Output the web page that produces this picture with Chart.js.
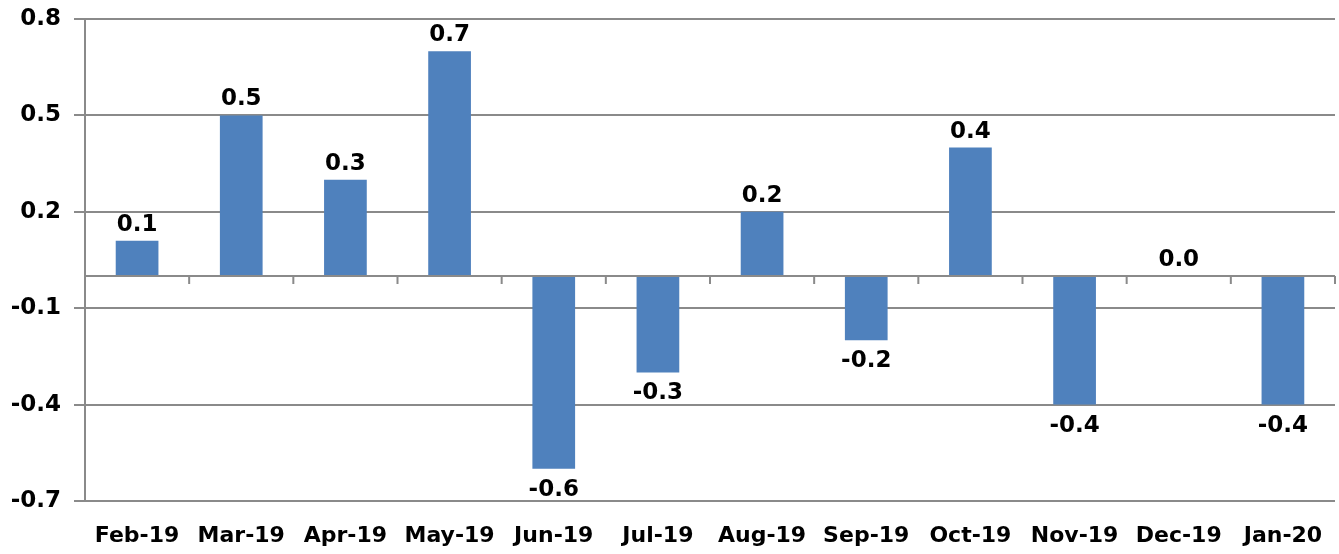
<!DOCTYPE html>
<html>
<head>
<meta charset="utf-8">
<script src="https://cdn.jsdelivr.net/npm/chart.js@4"></script>
<style>
  html, body { margin: 0; padding: 0; background: #fff; }
  #wrap { width: 1339px; height: 554px; }
</style>
</head>
<body>
<div id="wrap"><canvas id="chart"></canvas></div>
<script>
const months = ['Feb-19', 'Mar-19', 'Apr-19', 'May-19', 'Jun-19', 'Jul-19',
  'Aug-19', 'Sep-19', 'Oct-19', 'Nov-19', 'Dec-19', 'Jan-20'];
const changes = [0.11, 0.5, 0.3, 0.7, -0.6, -0.3, 0.2, -0.2, 0.4, -0.4, 0.0, -0.4];
const yTicks = [-0.7, -0.4, -0.1, 0.2, 0.5, 0.8];

const gridColor = '#8a8a8a';
const fontFamily = '"DejaVu Sans", "Liberation Sans", sans-serif';

// zero line with small tick marks between the months
const zeroLine = {
  id: 'zeroLine',
  afterDatasetsDraw(chart) {
    const { ctx, chartArea, scales } = chart;
    const y0 = scales.y.getPixelForValue(0);
    const step = (chartArea.right - chartArea.left) / months.length;
    ctx.save();
    ctx.strokeStyle = gridColor;
    ctx.lineWidth = 2;
    ctx.beginPath();
    ctx.moveTo(chartArea.left, y0);
    ctx.lineTo(chartArea.right, y0);
    for (let i = 1; i <= months.length; i++) {
      const x = chartArea.left + step * i;
      ctx.moveTo(x, y0);
      ctx.lineTo(x, y0 + 8);
    }
    ctx.stroke();
    ctx.restore();
  }
};

// value labels above / below each bar
const barLabels = {
  id: 'barLabels',
  afterDatasetsDraw(chart) {
    const { ctx } = chart;
    const meta = chart.getDatasetMeta(0);
    ctx.save();
    ctx.font = 'bold 23px ' + fontFamily;
    ctx.fillStyle = '#000';
    ctx.textAlign = 'center';
    ctx.textBaseline = 'alphabetic';
    meta.data.forEach((bar, i) => {
      const v = changes[i];
      const text = v.toFixed(1);
      if (v >= 0) {
        ctx.fillText(text, bar.x, bar.y - 10);
      } else {
        ctx.fillText(text, bar.x, bar.y + 27);
      }
    });
    ctx.restore();
  }
};

new Chart(document.getElementById('chart'), {
  type: 'bar',
  data: {
    labels: months,
    datasets: [{
      data: changes,
      backgroundColor: '#4F81BD',
      borderWidth: 0,
      barPercentage: 0.41,
      categoryPercentage: 1.0
    }]
  },
  options: {
    responsive: true,
    maintainAspectRatio: false,
    animation: false,
    layout: { padding: { top: 19, left: 0, right: 4, bottom: 0 } },
    plugins: {
      legend: { display: false },
      tooltip: { enabled: false }
    },
    scales: {
      x: {
        afterFit(scale) {
          scale.height = 53;
          scale.paddingLeft = 0;
          scale.paddingRight = 0;
        },
        grid: { display: false, drawTicks: false },
        border: { display: false },
        ticks: {
          color: '#000',
          padding: 22,
          maxRotation: 0,
          autoSkip: false,
          font: { family: fontFamily, size: 22, weight: 'bold' }
        }
      },
      y: {
        min: -0.7,
        max: 0.8,
        afterFit(scale) {
          scale.width = 85;
          scale.paddingTop = 0;
          scale.paddingBottom = 0;
        },
        afterBuildTicks(scale) {
          scale.ticks = yTicks.map(v => ({ value: v }));
        },
        grid: {
          color: gridColor,
          lineWidth: 2,
          drawTicks: true,
          tickLength: 11
        },
        border: { display: true, color: gridColor, width: 2 },
        ticks: {
          color: '#000',
          padding: 13,
          font: { family: fontFamily, size: 23, weight: 'bold' },
          callback: v => v.toFixed(1)
        }
      }
    }
  },
  plugins: [zeroLine, barLabels]
});
</script>
</body>
</html>
